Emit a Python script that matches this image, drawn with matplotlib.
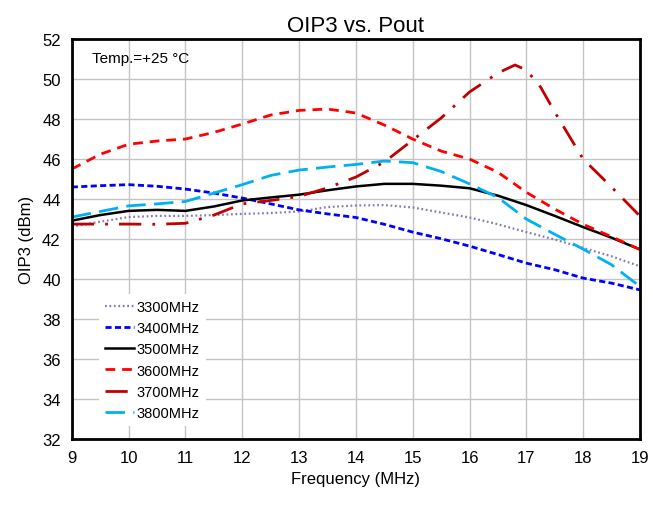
import matplotlib.pyplot as plt

plt.rcParams['font.family'] = ['Liberation Sans', 'DejaVu Sans']

# Frequency points (MHz)
freq = [9, 9.5, 10, 10.5, 11, 11.5, 12, 12.5, 13, 13.5, 14, 14.5,
        15, 15.5, 16, 16.5, 17, 17.5, 18, 18.5, 19]
# 3700MHz curve has extra points around its peak
freq_3700 = [9, 9.5, 10, 10.5, 11, 11.5, 12, 12.5, 13, 13.5, 14, 14.5,
             15, 15.5, 16, 16.5, 16.8, 17, 17.25, 17.5, 18, 18.5, 19]

oip3_3300 = [42.62, 42.87, 43.10, 43.16, 43.16, 43.20, 43.26, 43.30, 43.38, 43.60, 43.68, 43.70,
             43.58, 43.33, 43.08, 42.74, 42.35, 41.98, 41.56, 41.14, 40.64]
oip3_3400 = [44.60, 44.67, 44.72, 44.64, 44.50, 44.30, 44.05, 43.76, 43.46, 43.26, 43.08, 42.74,
             42.35, 42.02, 41.65, 41.23, 40.80, 40.47, 40.05, 39.80, 39.46]
oip3_3500 = [42.92, 43.20, 43.41, 43.46, 43.41, 43.63, 43.93, 44.08, 44.22, 44.44, 44.63, 44.76,
             44.76, 44.67, 44.54, 44.17, 43.70, 43.16, 42.60, 42.07, 41.48]
oip3_3600 = [45.50, 46.24, 46.74, 46.90, 47.00, 47.33, 47.75, 48.20, 48.43, 48.50, 48.30, 47.70,
             47.00, 46.40, 46.00, 45.34, 44.34, 43.50, 42.74, 42.12, 41.48]
oip3_3700 = [42.75, 42.75, 42.75, 42.74, 42.79, 43.20, 43.76, 43.93, 44.13, 44.56, 45.10, 45.85,
             46.95, 48.05, 49.35, 50.30, 50.70, 50.45, 49.60, 48.35, 46.00, 44.60, 43.15]
oip3_3800 = [43.10, 43.38, 43.66, 43.76, 43.88, 44.30, 44.72, 45.18, 45.45, 45.60, 45.73, 45.90,
             45.82, 45.38, 44.76, 44.08, 43.00, 42.24, 41.50, 40.72, 39.63]

x_ticks = list(range(9, 20))
y_ticks = list(range(32, 53, 2))

fig = plt.figure(figsize=(6.53, 5.06), dpi=100)
ax = fig.add_axes([0.110, 0.130, 0.870, 0.791])

ax.plot(freq, oip3_3300, color='#8878B8', lw=1.6, linestyle=(0, (0.8, 1.2)), label='3300MHz')
ax.plot(freq, oip3_3400, color='#0000FF', lw=2.0, linestyle=(0, (2.2, 1.2)), label='3400MHz')
ax.plot(freq, oip3_3500, color='#000000', lw=1.8, linestyle='-', label='3500MHz')
ax.plot(freq, oip3_3600, color='#FF0000', lw=2.0, linestyle=(0, (3.5, 2.5)), label='3600MHz')
ax.plot(freq_3700, oip3_3700, color='#C00000', lw=2.0, linestyle=(0, (8, 4, 1, 4)), label='3700MHz')
ax.plot(freq, oip3_3800, color='#00B0F0', lw=2.0, linestyle=(0, (7, 3)), label='3800MHz')

ax.set_xlim(9, 19)
ax.set_ylim(32, 52)
ax.set_xticks(x_ticks)
ax.set_yticks(y_ticks)
ax.tick_params(length=0, labelsize=12, pad=8)
ax.grid(True, color='#C4C4C4', lw=1.0)
ax.set_axisbelow(True)
for s in ax.spines.values():
    s.set_linewidth(2)
    s.set_color('black')

ax.set_xlabel('Frequency (MHz)', fontsize=12, labelpad=4)
ax.set_ylabel('OIP3 (dBm)', fontsize=12, labelpad=6)
ax.set_title('OIP3 vs. Pout', fontsize=16, pad=6)

ax.text(0.035, 0.97, 'Temp.=+25 °C', transform=ax.transAxes, fontsize=11,
        va='top', ha='left')

leg = ax.legend(loc='lower left', bbox_to_anchor=(0.035, 0.015), fontsize=10.5,
                frameon=True, fancybox=False, handlelength=2.0, handletextpad=0.2,
                labelspacing=0.5, borderpad=0.4)
leg.get_frame().set_edgecolor('none')
leg.get_frame().set_facecolor('white')
leg.get_frame().set_alpha(1)

fig.savefig('out.png', dpi=100)
